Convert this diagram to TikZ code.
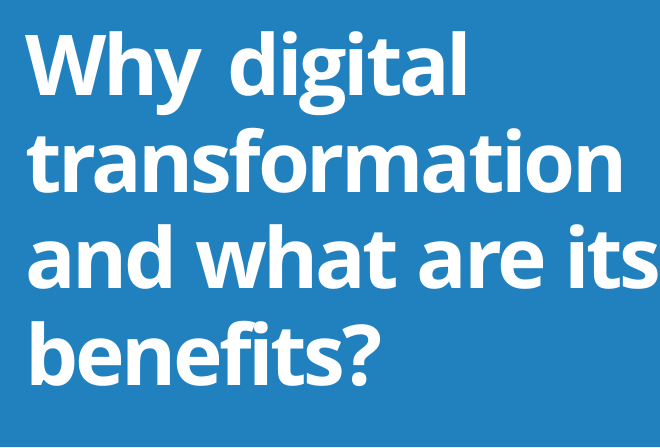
\documentclass[tikz,border=0pt]{standalone}
\usepackage{fontspec}
\setmainfont{Open Sans}[Ligatures=NoCommon,LetterSpace=-4]
\definecolor{bgblue}{HTML}{2181BF}
\begin{document}
\begin{tikzpicture}[x=1pt,y=-1pt,
  line/.style={anchor=base west,inner sep=0pt,text=white,font=\fontsize{84}{97}\selectfont\bfseries}]
\fill[bgblue] (0,0) rectangle (660,447);
\useasboundingbox (0,0) rectangle (660,447);
\node[line] (l1) at (25,95) {\spaceskip=25pt Why digital};
\node[line] (l2) at (25,192) {transformation};
\node[line] (l3) at (25,288) {\spaceskip=17.5pt and what are its};
\node[line] (l4) at (25,385) {benefits?};
\end{tikzpicture}
\end{document}
